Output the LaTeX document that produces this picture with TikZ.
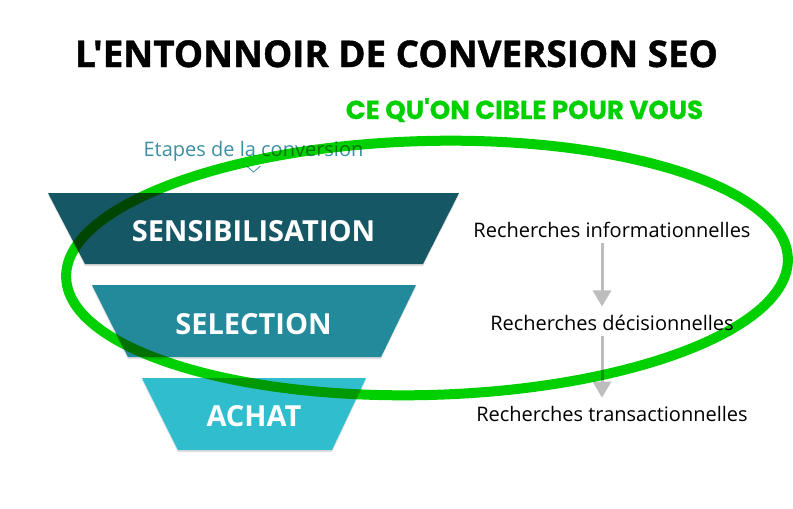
\documentclass[tikz,border=0pt]{standalone}
\usepackage{fontspec}
\setmainfont{Open Sans}
\newfontfamily\titlefont{Open Sans}[Ligatures=TeXOff,BoldFeatures={FakeBold=1.2}]
\newfontfamily\popfont{Poppins}[Ligatures=TeXOff,BoldFeatures={FakeBold=0.8}]
\usetikzlibrary{arrows.meta,shadows}

\definecolor{darkteal}{HTML}{165766}
\definecolor{midteal}{HTML}{228A9A}
\definecolor{lightteal}{HTML}{30BDCE}
\definecolor{brightgreen}{HTML}{00D000}
\definecolor{stepteal}{HTML}{3B8FA3}
\definecolor{arrowgray}{HTML}{BDBDBD}

\tikzset{
  funnel/.style={drop shadow={shadow xshift=0pt,shadow yshift=-2pt,opacity=0.25}},
  funneltext/.style={anchor=base,inner sep=0pt,text=white,font=\bfseries\fontsize{29}{29}\selectfont},
  search/.style={anchor=base,inner sep=0pt,font=\fontsize{20}{20}\selectfont},
  flow/.style={arrowgray,line width=3pt,-{Triangle[width=18pt,length=16pt]}}
}

\begin{document}
\begin{tikzpicture}[x=1pt,y=-1pt]
	\useasboundingbox (0,0) rectangle (793,509);
	% titles
	\node[anchor=base,inner sep=0pt,font=\titlefont\bfseries\fontsize{36.8}{36.8}\selectfont] (title) at (396.5,67) {L'ENTONNOIR DE CONVERSION SEO};
	\node[anchor=base,inner sep=0pt,text=brightgreen,font=\popfont\bfseries\fontsize{26}{26}\selectfont] (target) at (524.5,119) {CE QU'ON CIBLE POUR VOUS};
	\node[anchor=base,inner sep=0pt,text=stepteal,font=\fontsize{20}{20}\selectfont] (steps) at (253.5,156) {Etapes de la conversion};
	\draw[stepteal,line width=0.8pt] (steps.south) ++(-7,5) -- ++(7,6) -- ++(7,-6);
	% funnel
	\fill[darkteal,funnel] (48,193) -- (459,193) -- (423,264) -- (85,264) -- cycle;
	\fill[midteal,funnel] (92,285) -- (416,285) -- (381,357) -- (128,357) -- cycle;
	\fill[lightteal,funnel] (142,378) -- (366,378) -- (332,450) -- (178,450) -- cycle;
	\node[funneltext] (aware) at (253.5,241) {SENSIBILISATION};
	\node[funneltext] (select) at (253.5,334) {SELECTION};
	\node[funneltext] (buy) at (254,426) {ACHAT};
	% searches
	\node[search] (info) at (612,237) {Recherches informationnelles};
	\node[search] (deci) at (612,330) {Recherches décisionnelles};
	\node[search] (trans) at (612,421) {Recherches transactionnelles};
	\coordinate (arr) at (602,0);
	\draw[flow,shorten <=6pt,shorten >=8pt] (info.south -| arr) -- (deci.north -| arr);
	\draw[flow,shorten <=6pt,shorten >=8pt] (deci.south -| arr) -- (trans.north -| arr);
	% target ellipse
	\begin{scope}[blend mode=multiply]
	\draw[brightgreen,line width=10pt,rotate around={1.5:(427,268)}] (427,268) ellipse [x radius=361,y radius=127];
	\end{scope}
\end{tikzpicture}
\end{document}
